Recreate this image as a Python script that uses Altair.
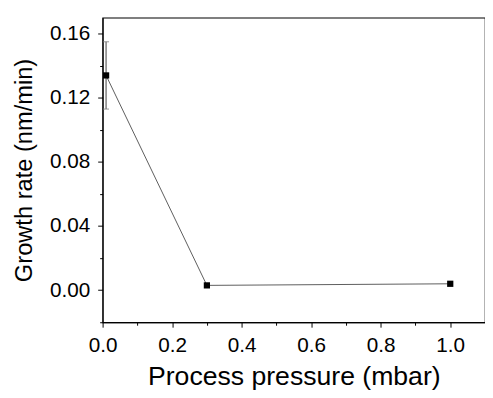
import altair as alt
import pandas as pd

pressure = [0.01, 0.3, 1.0]
rate = [0.134, 0.003, 0.004]
err = [0.021, 0.0, 0.0]

df = pd.DataFrame({"p": pressure, "r": rate,
                   "lo": [r - e for r, e in zip(rate, err)],
                   "hi": [r + e for r, e in zip(rate, err)]})
df_err = df[df["hi"] > df["lo"]]
caps = pd.DataFrame({"p": list(df_err["p"]) * 2, "r": list(df_err["lo"]) + list(df_err["hi"])})

FONT = "Liberation Sans"
xs = alt.Scale(domain=[0, 1.1], nice=False, zero=False)
ys = alt.Scale(domain=[-0.02, 0.17], nice=False, zero=False)

x_ticks = [0.0, 0.1, 0.2, 0.3, 0.4, 0.5, 0.6, 0.7, 0.8, 0.9, 1.0]
y_ticks = [-0.02, 0.0, 0.02, 0.04, 0.06, 0.08, 0.10, 0.12, 0.14, 0.16]

xaxis = alt.Axis(
    values=x_ticks, title="Process pressure (mbar)", grid=False,
    labelExpr="round(datum.value*10) % 2 == 0 ? format(datum.value, '.1f') : ''",
    tickSize={"condition": {"test": "round(datum.value*10) % 2 == 0", "value": 5}, "value": 3},
    labelFont=FONT, labelFontSize=21, labelColor="black", labelPadding=8,
    titleFont=FONT, titleFontSize=27, titleFontWeight="normal", titleColor="black", titlePadding=8,
    domainColor="black", tickColor="black", labelFlush=False, labelOverlap=False,
)
yaxis = alt.Axis(
    values=y_ticks, title="Growth rate (nm/min)", grid=False,
    labelExpr="round(datum.value*100) % 4 == 0 ? format(datum.value, '.2f') : ''",
    tickSize={"condition": {"test": "round(datum.value*100) % 4 == 0", "value": 5}, "value": 3},
    labelFont=FONT, labelFontSize=21, labelColor="black", labelPadding=8,
    titleFont=FONT, titleFontSize=24, titleFontWeight="normal", titleColor="black", titlePadding=13,
    domainColor="black", tickColor="black", labelFlush=False, labelOverlap=False,
)

X = alt.X("p:Q", scale=xs, axis=xaxis)
Y = alt.Y("r:Q", scale=ys, axis=yaxis)

line = alt.Chart(df).mark_line(color="#333333", strokeWidth=0.8).encode(x=X, y=Y)
erule = alt.Chart(df_err).mark_rule(color="#808080", strokeWidth=1.5).encode(
    x=X, y=alt.Y("lo:Q", scale=ys, axis=yaxis), y2="hi:Q")
ecap = alt.Chart(caps).mark_tick(color="#808080", orient="horizontal", size=6, thickness=1.2).encode(x=X, y=Y)
pts = alt.Chart(df).mark_square(color="black", size=40, opacity=1).encode(x=X, y=Y)

chart = alt.layer(line, erule, ecap, pts).properties(
    width=388, height=309,
    autosize=alt.AutoSizeParams(type="none"),
    padding={"left": 96, "top": 7, "right": 0, "bottom": 74},
).configure_view(stroke="black", strokeWidth=1.2)

chart.save("out.html", embed_options={"renderer": "svg", "actions": False})
